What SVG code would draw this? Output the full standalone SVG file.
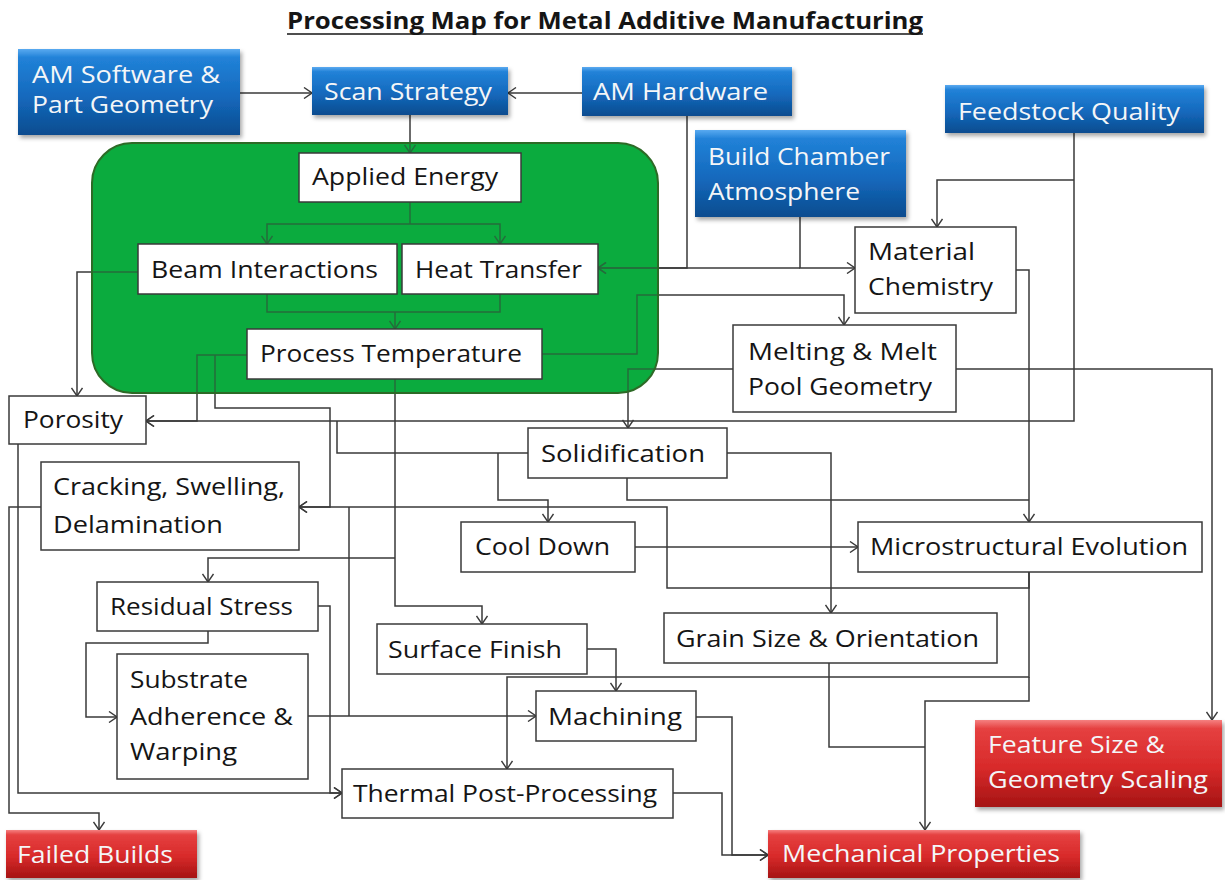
<svg xmlns="http://www.w3.org/2000/svg" width="1225" height="880" viewBox="0 0 1225 880">
  <defs>
    <style>
      .t { font-family: "Open Sans", "Liberation Sans", sans-serif; font-size: 24px; }
      .wt { fill: #f4f6f8; }
      .bt { fill: #151515; }
      .box { fill: #ffffff; stroke: #3a3a3a; stroke-width: 1.5; }
      .blue { fill: url(#gBlue); filter: url(#sh); }
      .red { fill: url(#gRed); filter: url(#sh); }
      #connectors path { fill: none; stroke: #3a3a3a; stroke-width: 1.5; }
      #connectors path.a { marker-end: url(#arr); }
    </style>
    <linearGradient id="gBlue" x1="0" y1="0" x2="0" y2="1">
      <stop offset="0" stop-color="#5aaaf0"/>
      <stop offset="0.1" stop-color="#2182d8"/>
      <stop offset="0.55" stop-color="#1569bd"/>
      <stop offset="1" stop-color="#0a4c8f"/>
    </linearGradient>
    <linearGradient id="gRed" x1="0" y1="0" x2="0" y2="1">
      <stop offset="0" stop-color="#f58080"/>
      <stop offset="0.1" stop-color="#e54040"/>
      <stop offset="0.55" stop-color="#d82a2a"/>
      <stop offset="1" stop-color="#a51414"/>
    </linearGradient>
    <filter id="sh" x="-10%" y="-20%" width="125%" height="150%">
      <feDropShadow dx="2" dy="3" stdDeviation="2" flood-color="#000" flood-opacity="0.35"/>
    </filter>
    <marker id="arr" viewBox="0 0 10 12" refX="9" refY="6" markerWidth="10" markerHeight="12" markerUnits="userSpaceOnUse" orient="auto">
      <path d="M1,0.5 L9,6 L1,11.5" fill="none" stroke="#3a3a3a" stroke-width="1.4"/>
    </marker>
  </defs>

  <rect width="1225" height="880" fill="#ffffff"/>

  <!-- title -->
  <g id="title">
    <text class="t bt" x="287" y="29" font-size="20" font-weight="bold" textLength="636" lengthAdjust="spacingAndGlyphs">Processing Map for Metal Additive Manufacturing</text>
    <line x1="287" y1="34" x2="923" y2="34" stroke="#151515" stroke-width="1.6"/>
  </g>

  <!-- green process zone (base fill) -->
  <rect id="process-zone" x="92" y="143" width="566" height="250" rx="40" fill="#0cab3e"/>

  <g id="connectors">
    <path class="a" d="M240 93 H312"/>
    <path class="a" d="M582 93 H508"/>
    <path class="a" d="M410 115 V153"/>
    <path d="M410 202 V224"/>
    <path class="a" d="M410 224 H267 V244"/>
    <path class="a" d="M410 224 H500 V244"/>
    <path d="M267 294 V312 H500 V294"/>
    <path class="a" d="M395 312 V329"/>
    <path class="a" d="M138 272 H77 V396"/>
    <path class="a" d="M247 355 H197 V421 H146"/>
    <path class="a" d="M1074 133 V421 H146"/>
    <path class="a" d="M1074 180 H937 V227"/>
    <path class="a" d="M215 355 V408 H330 V507 H299"/>
    <path class="a" d="M1029 572 V588 H667 V507 H299"/>
    <path class="a" d="M308 716 H536"/>
    <path d="M349 716 V507"/>
    <path d="M528 453 H337 V421"/>
    <path class="a" d="M498 453 V500 H548 V522"/>
    <path d="M627 478 V500 H1029"/>
    <path class="a" d="M1016 270 H1029 V522"/>
    <path class="a" d="M727 453 H831 V613"/>
    <path class="a" d="M733 369 H628 V428"/>
    <path class="a" d="M956 369 H1212 V720"/>
    <path class="a" d="M542 354 H637 V295 H844 V325"/>
    <path class="a" d="M687 116 V268 H598"/>
    <path class="a" d="M800 217 V268 H855"/>
    <path class="a" d="M800 268 H598"/>
    <path class="a" d="M395 379 V606 H482 V624"/>
    <path class="a" d="M395 558 H208 V582"/>
    <path class="a" d="M318 606 H330 V793 H342"/>
    <path class="a" d="M18 444 V793 H342"/>
    <path class="a" d="M208 631 V643 H86 V717 H117"/>
    <path class="a" d="M41 507 H9 V813 H99 V830"/>
    <path class="a" d="M587 649 H616 V691"/>
    <path class="a" d="M1029 572 V677 H507 V769"/>
    <path class="a" d="M1029 677 V701 H925 V830"/>
    <path d="M829 663 V747 H925"/>
    <path class="a" d="M696 717 H732 V855 H768"/>
    <path class="a" d="M673 793 H722 V855 H768"/>
    <path class="a" d="M635 547 H858"/>
  </g>

  <!-- green tint over the lines inside the zone, plus its outline -->
  <rect x="92" y="143" width="566" height="250" rx="40" fill="#0cab3e" fill-opacity="0.45" stroke="#2d6a26" stroke-width="2"/>

  <!-- inputs -->
  <g id="am-software">
    <rect class="blue" x="18" y="49" width="222" height="86"/>
    <text class="t wt" x="32" y="83" textLength="188" lengthAdjust="spacingAndGlyphs">AM Software &amp;</text>
    <text class="t wt" x="32" y="113" textLength="181" lengthAdjust="spacingAndGlyphs">Part Geometry</text>
  </g>
  <g id="scan-strategy">
    <rect class="blue" x="312" y="67" width="196" height="48"/>
    <text class="t wt" x="324" y="100" textLength="168" lengthAdjust="spacingAndGlyphs">Scan Strategy</text>
  </g>
  <g id="am-hardware">
    <rect class="blue" x="582" y="67" width="210" height="49"/>
    <text class="t wt" x="593" y="100" textLength="175" lengthAdjust="spacingAndGlyphs">AM Hardware</text>
  </g>
  <g id="build-chamber">
    <rect class="blue" x="695" y="130" width="211" height="87"/>
    <text class="t wt" x="708" y="165" textLength="182" lengthAdjust="spacingAndGlyphs">Build Chamber</text>
    <text class="t wt" x="708" y="200" textLength="152" lengthAdjust="spacingAndGlyphs">Atmosphere</text>
  </g>
  <g id="feedstock">
    <rect class="blue" x="945" y="85" width="259" height="48"/>
    <text class="t wt" x="958" y="120" textLength="222" lengthAdjust="spacingAndGlyphs">Feedstock Quality</text>
  </g>

  <!-- process -->
  <g id="applied-energy">
    <rect class="box" x="299" y="153" width="222" height="49"/>
    <text class="t bt" x="312" y="185" textLength="186" lengthAdjust="spacingAndGlyphs">Applied Energy</text>
  </g>
  <g id="beam-interactions">
    <rect class="box" x="138" y="244" width="259" height="50"/>
    <text class="t bt" x="151" y="278" textLength="227" lengthAdjust="spacingAndGlyphs">Beam Interactions</text>
  </g>
  <g id="heat-transfer">
    <rect class="box" x="402" y="244" width="196" height="50"/>
    <text class="t bt" x="415" y="278" textLength="167" lengthAdjust="spacingAndGlyphs">Heat Transfer</text>
  </g>
  <g id="process-temperature">
    <rect class="box" x="247" y="329" width="295" height="50"/>
    <text class="t bt" x="260" y="362" textLength="262" lengthAdjust="spacingAndGlyphs">Process Temperature</text>
  </g>
  <g id="material-chemistry">
    <rect class="box" x="855" y="227" width="161" height="86"/>
    <text class="t bt" x="868" y="260" textLength="107" lengthAdjust="spacingAndGlyphs">Material</text>
    <text class="t bt" x="868" y="295" textLength="125" lengthAdjust="spacingAndGlyphs">Chemistry</text>
  </g>
  <g id="melt-pool">
    <rect class="box" x="733" y="325" width="223" height="87"/>
    <text class="t bt" x="748" y="360" textLength="189" lengthAdjust="spacingAndGlyphs">Melting &amp; Melt</text>
    <text class="t bt" x="748" y="395" textLength="184" lengthAdjust="spacingAndGlyphs">Pool Geometry</text>
  </g>
  <g id="porosity">
    <rect class="box" x="9" y="396" width="137" height="48"/>
    <text class="t bt" x="23" y="428" textLength="100" lengthAdjust="spacingAndGlyphs">Porosity</text>
  </g>
  <g id="solidification">
    <rect class="box" x="528" y="428" width="199" height="50"/>
    <text class="t bt" x="541" y="462" textLength="164" lengthAdjust="spacingAndGlyphs">Solidification</text>
  </g>
  <g id="cracking">
    <rect class="box" x="41" y="462" width="258" height="88"/>
    <text class="t bt" x="53" y="495" textLength="232" lengthAdjust="spacingAndGlyphs">Cracking, Swelling,</text>
    <text class="t bt" x="53" y="533" textLength="170" lengthAdjust="spacingAndGlyphs">Delamination</text>
  </g>
  <g id="cool-down">
    <rect class="box" x="461" y="522" width="174" height="50"/>
    <text class="t bt" x="475" y="555" textLength="135" lengthAdjust="spacingAndGlyphs">Cool Down</text>
  </g>
  <g id="microstructure">
    <rect class="box" x="858" y="522" width="344" height="50"/>
    <text class="t bt" x="870" y="555" textLength="318" lengthAdjust="spacingAndGlyphs">Microstructural Evolution</text>
  </g>
  <g id="residual-stress">
    <rect class="box" x="97" y="582" width="221" height="49"/>
    <text class="t bt" x="110" y="615" textLength="183" lengthAdjust="spacingAndGlyphs">Residual Stress</text>
  </g>
  <g id="surface-finish">
    <rect class="box" x="377" y="624" width="210" height="50"/>
    <text class="t bt" x="388" y="658" textLength="174" lengthAdjust="spacingAndGlyphs">Surface Finish</text>
  </g>
  <g id="grain-size">
    <rect class="box" x="664" y="613" width="333" height="50"/>
    <text class="t bt" x="676" y="647" textLength="303" lengthAdjust="spacingAndGlyphs">Grain Size &amp; Orientation</text>
  </g>
  <g id="substrate">
    <rect class="box" x="117" y="654" width="191" height="125"/>
    <text class="t bt" x="130" y="688" textLength="118" lengthAdjust="spacingAndGlyphs">Substrate</text>
    <text class="t bt" x="130" y="725" textLength="163" lengthAdjust="spacingAndGlyphs">Adherence &amp;</text>
    <text class="t bt" x="130" y="760" textLength="107" lengthAdjust="spacingAndGlyphs">Warping</text>
  </g>
  <g id="machining">
    <rect class="box" x="536" y="691" width="160" height="50"/>
    <text class="t bt" x="548" y="725" textLength="134" lengthAdjust="spacingAndGlyphs">Machining</text>
  </g>
  <g id="thermal-post">
    <rect class="box" x="342" y="769" width="331" height="49"/>
    <text class="t bt" x="353" y="802" textLength="304" lengthAdjust="spacingAndGlyphs">Thermal Post-Processing</text>
  </g>

  <!-- outcomes -->
  <g id="failed-builds">
    <rect class="red" x="6" y="830" width="191" height="48"/>
    <text class="t wt" x="17" y="863" textLength="156" lengthAdjust="spacingAndGlyphs">Failed Builds</text>
  </g>
  <g id="mechanical-properties">
    <rect class="red" x="768" y="830" width="312" height="48"/>
    <text class="t wt" x="782" y="862" textLength="278" lengthAdjust="spacingAndGlyphs">Mechanical Properties</text>
  </g>
  <g id="feature-size">
    <rect class="red" x="975" y="720" width="247" height="87"/>
    <text class="t wt" x="988" y="753" textLength="177" lengthAdjust="spacingAndGlyphs">Feature Size &amp;</text>
    <text class="t wt" x="988" y="788" textLength="220" lengthAdjust="spacingAndGlyphs">Geometry Scaling</text>
  </g>
</svg>
